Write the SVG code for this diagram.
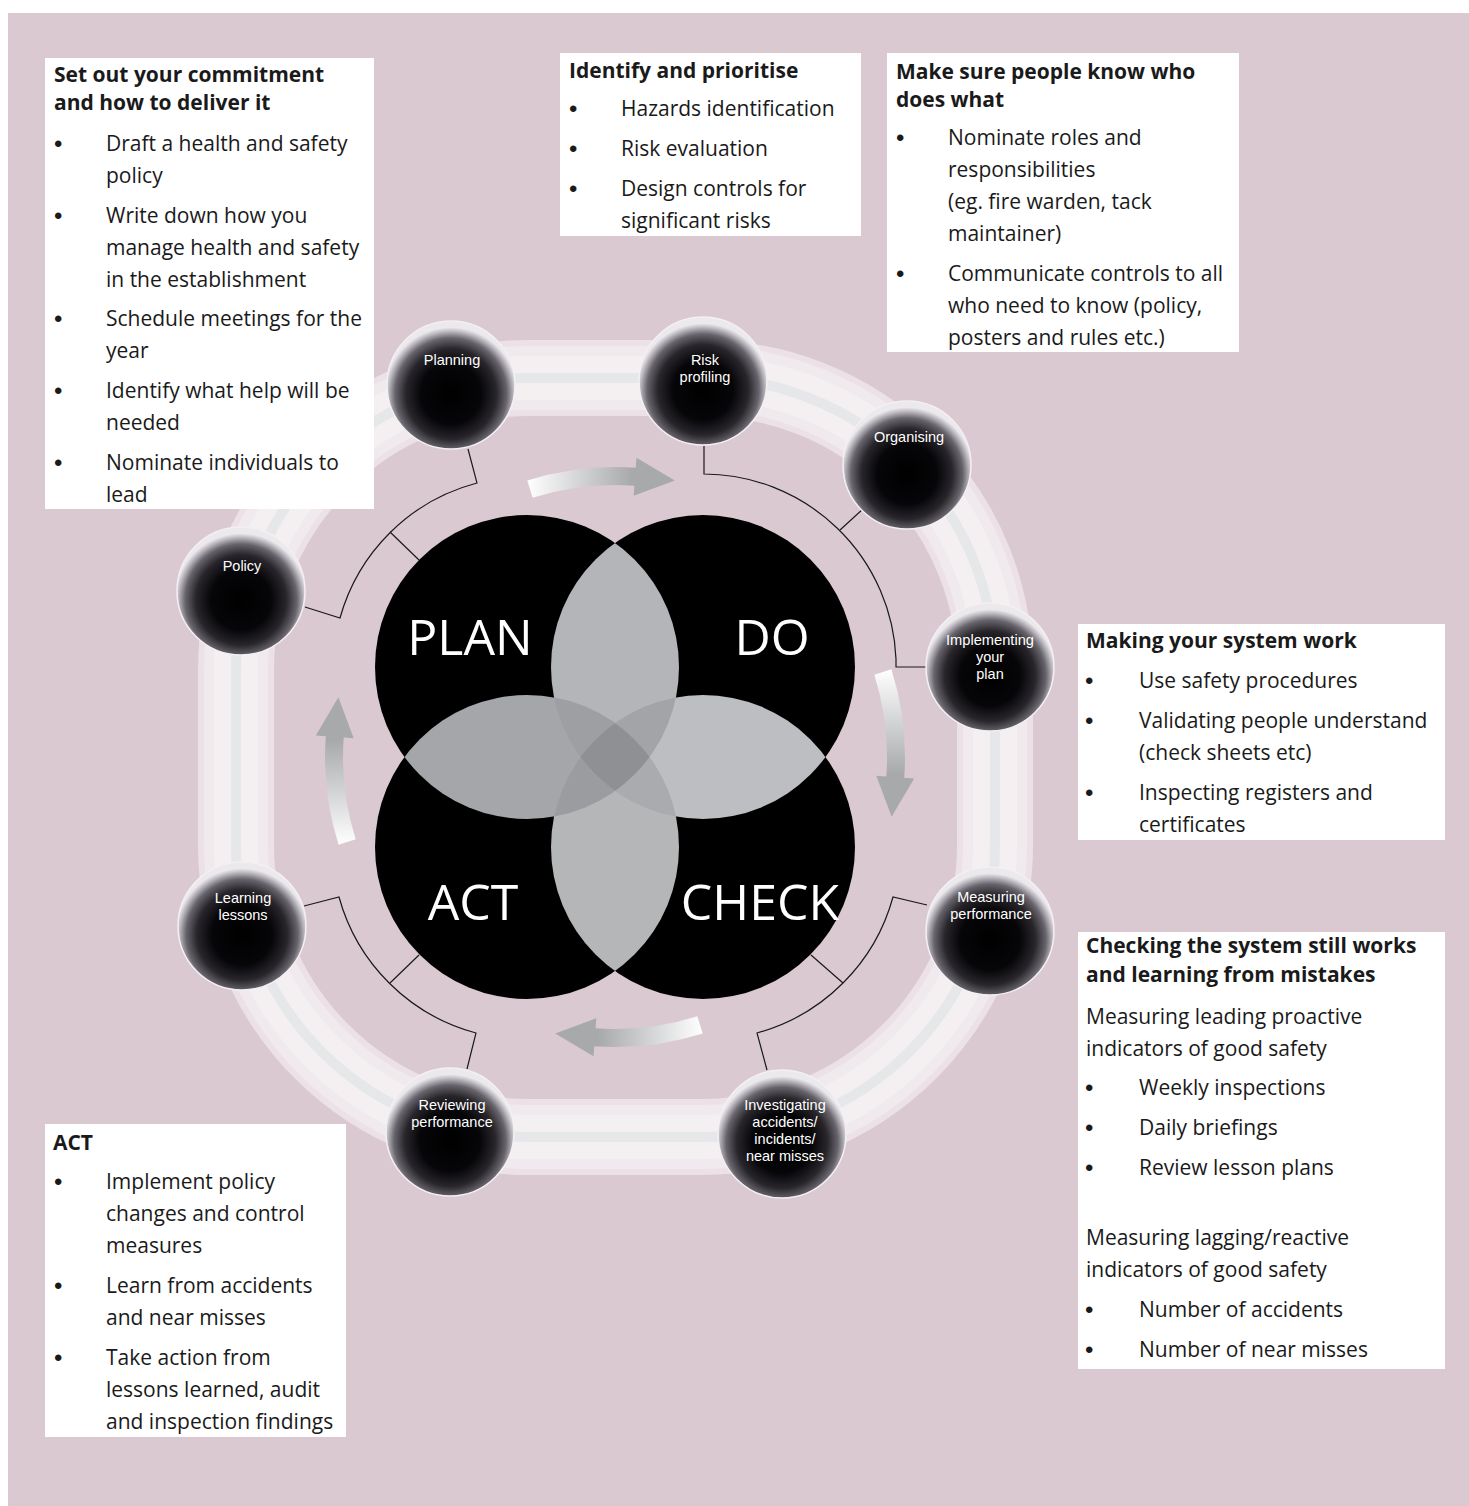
<svg xmlns="http://www.w3.org/2000/svg" width="1469" height="1506" viewBox="0 0 1469 1506">
<style>
.h{font-family:"Open Sans","Liberation Sans",sans-serif;font-weight:bold;font-size:21px;fill:#1a1a1a}
.b{font-family:"Open Sans","Liberation Sans",sans-serif;font-size:21px;fill:#1a1a1a}
.bu{font-family:"Liberation Sans",sans-serif;font-size:24px;fill:#1a1a1a}
.sl{font-family:"Liberation Sans","Open Sans",sans-serif;font-size:14.5px;fill:#ffffff;text-anchor:middle}
.big{font-family:"Open Sans","Liberation Sans",sans-serif;font-size:50px;fill:#ffffff;text-anchor:middle}
.box{fill:#ffffff}
.sph{fill:url(#sphg);stroke:#f3eff2;stroke-width:1.5}
.con{fill:none;stroke:#1a1a1a;stroke-width:1.2}
.arr{fill:url(#arrg)}
</style>
<defs>
<radialGradient id="sphg" cx="50%" cy="57%" r="52%">
<stop offset="0" stop-color="#000000"/>
<stop offset="0.45" stop-color="#060508"/>
<stop offset="0.68" stop-color="#28262b"/>
<stop offset="0.84" stop-color="#67646b"/>
<stop offset="0.94" stop-color="#bdb9c0"/>
<stop offset="1" stop-color="#ece9ed"/>
</radialGradient>
<linearGradient id="arrg" gradientUnits="userSpaceOnUse" x1="527" y1="0" x2="632" y2="0">
<stop offset="0" stop-color="#ffffff"/>
<stop offset="1" stop-color="#a7a9ab"/>
</linearGradient>
<clipPath id="cP"><circle cx="527" cy="667" r="152"/></clipPath>
<clipPath id="cD"><circle cx="703" cy="667" r="152"/></clipPath>
<clipPath id="cA"><circle cx="527" cy="847" r="152"/></clipPath>
<clipPath id="cC"><circle cx="703" cy="847" r="152"/></clipPath>
</defs>

<rect x="0" y="0" width="1469" height="1506" fill="#ffffff"/>
<rect x="8" y="13" width="1461" height="1493" fill="#dbc9d2"/>

<g id="ring" fill="none">
<rect x="236" y="378" width="759" height="759" rx="292" stroke="#ebe1e6" stroke-width="76"/>
<rect x="236" y="378" width="759" height="759" rx="292" stroke="#f0e9ed" stroke-width="64"/>
<rect x="236" y="378" width="759" height="759" rx="292" stroke="#f4f0f2" stroke-width="44"/>
<rect x="236" y="378" width="759" height="759" rx="292" stroke="#e6e7e9" stroke-width="10"/>
</g>

<g id="connectors">
<path class="con" d="M468,449 L477,483 A193,193 0 0 0 340,618 L305,607"/>
<path class="con" d="M390,532 L419,560"/>
<path class="con" d="M704,446 L704,474 A193,193 0 0 1 896,659 L896,667 L926,667"/>
<path class="con" d="M864,508 L840,530"/>
<path class="con" d="M927,905 L893,897 A194,194 0 0 1 757,1033 L767,1070"/>
<path class="con" d="M843,983 L811,955"/>
<path class="con" d="M304,906 L339,897 A194,194 0 0 0 476,1033 L467,1069"/>
<path class="con" d="M390,983 L419,955"/>
</g>

<g id="pdca">
<circle cx="527" cy="667" r="152" fill="#000000"/>
<circle cx="703" cy="667" r="152" fill="#000000"/>
<circle cx="527" cy="847" r="152" fill="#000000"/>
<circle cx="703" cy="847" r="152" fill="#000000"/>
<g clip-path="url(#cP)"><circle cx="703" cy="667" r="152" fill="#b4b5b8"/></g>
<g clip-path="url(#cP)"><circle cx="527" cy="847" r="152" fill="#a5a6a9"/></g>
<g clip-path="url(#cD)"><circle cx="703" cy="847" r="152" fill="#bcbec1"/></g>
<g clip-path="url(#cA)"><circle cx="703" cy="847" r="152" fill="#b5b6b8"/></g>
<g clip-path="url(#cP)"><g clip-path="url(#cD)"><circle cx="527" cy="847" r="152" fill="#9e9fa2"/></g></g>
<g clip-path="url(#cP)"><g clip-path="url(#cD)"><circle cx="703" cy="847" r="152" fill="#a3a4a7"/></g></g>
<g clip-path="url(#cP)"><g clip-path="url(#cA)"><circle cx="703" cy="847" r="152" fill="#9b9c9f"/></g></g>
<g clip-path="url(#cD)"><g clip-path="url(#cA)"><circle cx="703" cy="847" r="152" fill="#aaabae"/></g></g>
<g clip-path="url(#cP)"><g clip-path="url(#cD)"><g clip-path="url(#cA)"><circle cx="703" cy="847" r="152" fill="#8f9093"/></g></g></g>
<text class="big" x="470" y="655">PLAN</text>
<text class="big" x="772" y="655">DO</text>
<text class="big" x="473" y="920">ACT</text>
<text class="big" x="760" y="920">CHECK</text>
</g>

<g id="arrows">
<path class="arr" d="M527.3,480.6 A290,290 0 0 1 635.7,467.8 L636.5,457.8 L674.8,480.4 L633.7,495.7 L634.4,485.7 A272,272 0 0 0 532.7,497.7 Z"/>
<path class="arr" transform="rotate(90 615 757)" d="M527.3,480.6 A290,290 0 0 1 635.7,467.8 L636.5,457.8 L674.8,480.4 L633.7,495.7 L634.4,485.7 A272,272 0 0 0 532.7,497.7 Z"/>
<path class="arr" transform="rotate(180 615 757)" d="M527.3,480.6 A290,290 0 0 1 635.7,467.8 L636.5,457.8 L674.8,480.4 L633.7,495.7 L634.4,485.7 A272,272 0 0 0 532.7,497.7 Z"/>
<path class="arr" transform="rotate(270 615 757)" d="M527.3,480.6 A290,290 0 0 1 635.7,467.8 L636.5,457.8 L674.8,480.4 L633.7,495.7 L634.4,485.7 A272,272 0 0 0 532.7,497.7 Z"/>
</g>

<g id="n-planning"><circle class="sph" cx="451" cy="385" r="64"/><text class="sl" x="452" y="365">Planning</text></g>
<g id="n-risk"><circle class="sph" cx="703" cy="381" r="64"/><text class="sl" x="705" y="365">Risk</text><text class="sl" x="705" y="382">profiling</text></g>
<g id="n-organising"><circle class="sph" cx="907" cy="465" r="64"/><text class="sl" x="909" y="442">Organising</text></g>
<g id="n-implementing"><circle class="sph" cx="990" cy="667" r="64"/><text class="sl" x="990" y="645" textLength="88" lengthAdjust="spacingAndGlyphs">Implementing</text><text class="sl" x="990" y="662">your</text><text class="sl" x="990" y="679">plan</text></g>
<g id="n-measuring"><circle class="sph" cx="990" cy="931" r="64"/><text class="sl" x="991" y="902">Measuring</text><text class="sl" x="991" y="919">performance</text></g>
<g id="n-investigating"><circle class="sph" cx="782" cy="1134" r="64"/><text class="sl" x="785" y="1110">Investigating</text><text class="sl" x="785" y="1127">accidents/</text><text class="sl" x="785" y="1144">incidents/</text><text class="sl" x="785" y="1161">near misses</text></g>
<g id="n-reviewing"><circle class="sph" cx="450" cy="1132" r="64"/><text class="sl" x="452" y="1110">Reviewing</text><text class="sl" x="452" y="1127">performance</text></g>
<g id="n-learning"><circle class="sph" cx="242" cy="926" r="64"/><text class="sl" x="243" y="903">Learning</text><text class="sl" x="243" y="920">lessons</text></g>
<g id="n-policy"><circle class="sph" cx="241" cy="591" r="64"/><text class="sl" x="242" y="571">Policy</text></g>

<g id="box-commitment">
<rect class="box" x="45" y="58" width="329" height="451"/>
<text class="h" x="54" y="82">Set out your commitment</text>
<text class="h" x="54" y="110">and how to deliver it</text>
<text class="bu" x="54" y="152">•</text><text class="b" x="106" y="151">Draft a health and safety</text>
<text class="b" x="106" y="183">policy</text>
<text class="bu" x="54" y="224">•</text><text class="b" x="106" y="223">Write down how you</text>
<text class="b" x="106" y="255">manage health and safety</text>
<text class="b" x="106" y="287">in the establishment</text>
<text class="bu" x="54" y="327">•</text><text class="b" x="106" y="326">Schedule meetings for the</text>
<text class="b" x="106" y="358">year</text>
<text class="bu" x="54" y="399">•</text><text class="b" x="106" y="398">Identify what help will be</text>
<text class="b" x="106" y="430">needed</text>
<text class="bu" x="54" y="471">•</text><text class="b" x="106" y="470">Nominate individuals to</text>
<text class="b" x="106" y="502">lead</text>
</g>

<g id="box-identify">
<rect class="box" x="560" y="53" width="301" height="183"/>
<text class="h" x="569" y="78">Identify and prioritise</text>
<text class="bu" x="569" y="117">•</text><text class="b" x="621" y="116">Hazards identification</text>
<text class="bu" x="569" y="157">•</text><text class="b" x="621" y="156">Risk evaluation</text>
<text class="bu" x="569" y="197">•</text><text class="b" x="621" y="196">Design controls for</text>
<text class="b" x="621" y="228">significant risks</text>
</g>

<g id="box-roles">
<rect class="box" x="887" y="53" width="352" height="299"/>
<text class="h" x="896" y="79">Make sure people know who</text>
<text class="h" x="896" y="107">does what</text>
<text class="bu" x="896" y="146">•</text><text class="b" x="948" y="145">Nominate roles and</text>
<text class="b" x="948" y="177">responsibilities</text>
<text class="b" x="948" y="209">(eg. fire warden, tack</text>
<text class="b" x="948" y="241">maintainer)</text>
<text class="bu" x="896" y="282">•</text><text class="b" x="948" y="281">Communicate controls to all</text>
<text class="b" x="948" y="313">who need to know (policy,</text>
<text class="b" x="948" y="345">posters and rules etc.)</text>
</g>

<g id="box-system">
<rect class="box" x="1078" y="624" width="367" height="216"/>
<text class="h" x="1086" y="648">Making your system work</text>
<text class="bu" x="1085" y="689">•</text><text class="b" x="1139" y="688">Use safety procedures</text>
<text class="bu" x="1085" y="729">•</text><text class="b" x="1139" y="728">Validating people understand</text>
<text class="b" x="1139" y="760">(check sheets etc)</text>
<text class="bu" x="1085" y="801">•</text><text class="b" x="1139" y="800">Inspecting registers and</text>
<text class="b" x="1139" y="832">certificates</text>
</g>

<g id="box-checking">
<rect class="box" x="1078" y="932" width="367" height="437"/>
<text class="h" x="1086" y="953">Checking the system still works</text>
<text class="h" x="1086" y="982">and learning from mistakes</text>
<text class="b" x="1086" y="1024">Measuring leading proactive</text>
<text class="b" x="1086" y="1056">indicators of good safety</text>
<text class="bu" x="1085" y="1096">•</text><text class="b" x="1139" y="1095">Weekly inspections</text>
<text class="bu" x="1085" y="1136">•</text><text class="b" x="1139" y="1135">Daily briefings</text>
<text class="bu" x="1085" y="1176">•</text><text class="b" x="1139" y="1175">Review lesson plans</text>
<text class="b" x="1086" y="1245">Measuring lagging/reactive</text>
<text class="b" x="1086" y="1277">indicators of good safety</text>
<text class="bu" x="1085" y="1318">•</text><text class="b" x="1139" y="1317">Number of accidents</text>
<text class="bu" x="1085" y="1358">•</text><text class="b" x="1139" y="1357">Number of near misses</text>
</g>

<g id="box-act">
<rect class="box" x="45" y="1124" width="301" height="313"/>
<text class="h" x="53" y="1150">ACT</text>
<text class="bu" x="54" y="1190">•</text><text class="b" x="106" y="1189">Implement policy</text>
<text class="b" x="106" y="1221">changes and control</text>
<text class="b" x="106" y="1253">measures</text>
<text class="bu" x="54" y="1294">•</text><text class="b" x="106" y="1293">Learn from accidents</text>
<text class="b" x="106" y="1325">and near misses</text>
<text class="bu" x="54" y="1366">•</text><text class="b" x="106" y="1365">Take action from</text>
<text class="b" x="106" y="1397">lessons learned, audit</text>
<text class="b" x="106" y="1429">and inspection findings</text>
</g>
</svg>
